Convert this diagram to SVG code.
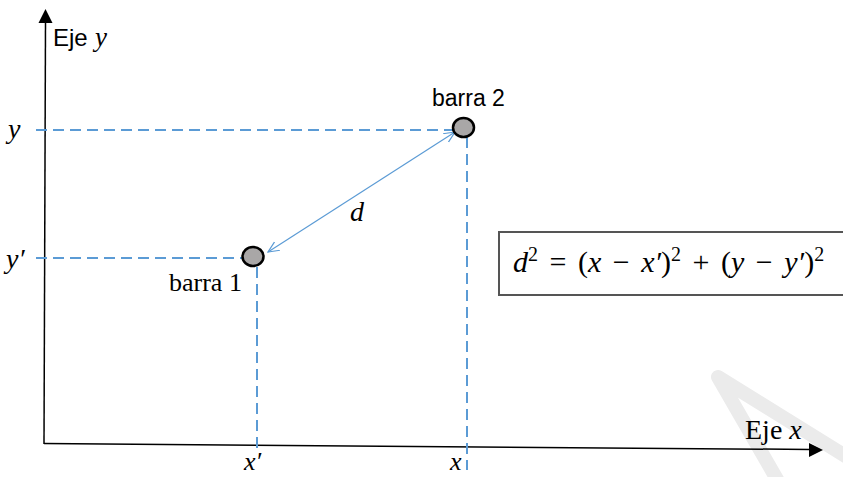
<svg xmlns="http://www.w3.org/2000/svg" width="843" height="477" viewBox="0 0 843 477">
<defs>
<style>
.axis{stroke:#000;stroke-width:1.5;fill:none}
.dash{stroke:#5b9bd5;stroke-width:2;stroke-dasharray:11 6;fill:none}
.conn{stroke:#5b9bd5;stroke-width:1.2;fill:none}
.node{fill:#a9a7a7;stroke:#000;stroke-width:2.5}
.math{font-family:"Liberation Serif",serif;font-style:italic;fill:#000}
.up{font-style:normal}
.sans{font-family:"Liberation Sans",sans-serif;fill:#000}
.serif{font-family:"Liberation Serif",serif;fill:#000}
</style>
<marker id="open" viewBox="0 0 12 12" refX="11" refY="6" markerWidth="12" markerHeight="12" markerUnits="userSpaceOnUse" orient="auto-start-reverse">
<path d="M0,1 L11,6 L0,11" fill="none" stroke="#5b9bd5" stroke-width="1.2"/>
</marker>
</defs>
<rect width="843" height="477" fill="#fff"/>
<g id="watermark">
<polyline points="852,460 718,377 782,488" fill="none" stroke="#ebebeb" stroke-width="14" stroke-linejoin="round"/>
</g>
<g id="axes">
<line class="axis" x1="45.5" y1="22" x2="44" y2="444"/>
<polygon points="45.5,9 38.5,23 52.5,23" fill="#000"/>
<line class="axis" x1="44" y1="443.5" x2="810" y2="449.5"/>
<polygon points="823,450 809,443 809,457" fill="#000"/>
<text class="sans" x="53" y="46" font-size="24">Eje</text>
<text class="math" x="95" y="46" font-size="27">y</text>
<text class="serif" x="745" y="439" font-size="28">Eje <tspan class="math">x</tspan></text>
</g>
<g id="connectors">
<line class="dash" x1="36" y1="130" x2="454" y2="130"/>
<line class="dash" x1="36" y1="258" x2="243" y2="258"/>
<line class="dash" x1="257" y1="267" x2="257" y2="452"/>
<line class="dash" x1="467" y1="137" x2="467" y2="470"/>
<line class="conn" x1="268" y1="252" x2="455" y2="132" marker-start="url(#open)" marker-end="url(#open)"/>
</g>
<g id="labels">
<text class="math" x="8" y="138" font-size="28">y</text>
<text class="math" x="6" y="268" font-size="28">y′</text>
<text class="math" x="244" y="470" font-size="26">x′</text>
<text class="math" x="450" y="470" font-size="26">x</text>
<text class="math" x="350" y="221" font-size="28">d</text>
</g>
<g id="barra2">
<ellipse class="node" cx="463.5" cy="127.5" rx="10.5" ry="9.5"/>
<text class="sans" x="432" y="106" font-size="23">barra 2</text>
</g>
<g id="barra1">
<ellipse class="node" cx="253" cy="256.5" rx="10.5" ry="9.5"/>
<text class="serif" x="169" y="291" font-size="26">barra 1</text>
</g>
<g id="formula">
<path d="M843,232 H499 V295 H843" fill="none" stroke="#555" stroke-width="2"/>
<text class="math" x="513" y="272" font-size="30" word-spacing="4">d<tspan class="up" dy="-11" font-size="20">2</tspan><tspan class="up" dy="11"> = (</tspan>x<tspan class="up"> − </tspan>x′<tspan class="up">)</tspan><tspan class="up" dy="-11" font-size="20">2</tspan><tspan class="up" dy="11"> + (</tspan>y<tspan class="up"> − </tspan>y′<tspan class="up">)</tspan><tspan class="up" dy="-11" font-size="20">2</tspan></text>
</g>
</svg>
